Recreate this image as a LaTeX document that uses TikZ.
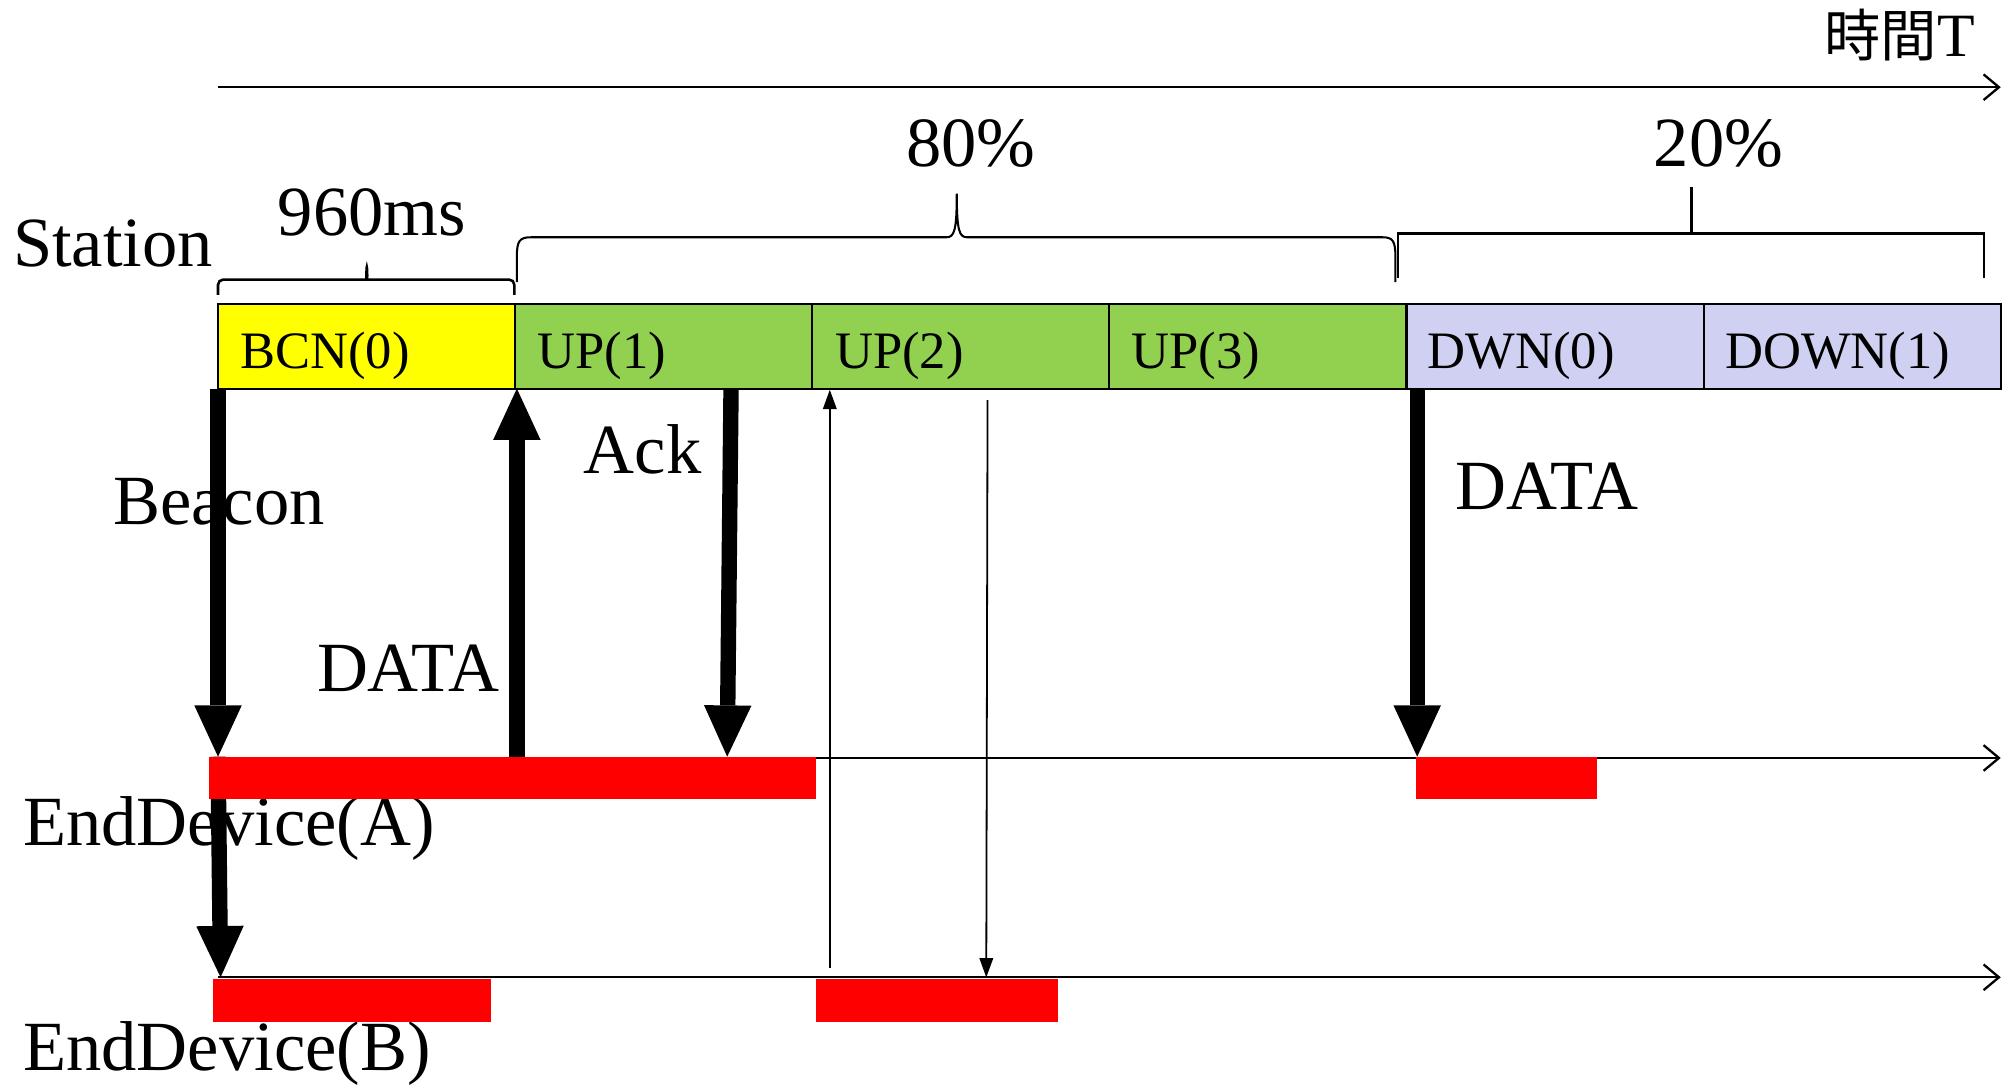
\documentclass[tikz,border=0pt]{standalone}
\usepackage{fontspec}
\setmainfont{Liberation Serif}
\newfontfamily\cjkfont{Noto Sans CJK TC}
\usetikzlibrary{arrows.meta}
\definecolor{cyel}{RGB}{255,255,0}
\definecolor{cgreen}{RGB}{146,208,80}
\definecolor{clav}{RGB}{208,208,242}
\begin{document}
\begin{tikzpicture}[x=1pt,y=-1pt,
 txt/.style={inner sep=0pt, font=\fontsize{55}{60}\selectfont},
 celltxt/.style={inner sep=0pt, font=\fontsize{41}{45}\selectfont},
 cell/.style={draw=black, line width=1.6pt, minimum width=231.67pt, minimum height=66pt, inner sep=0pt},
 heavy/.style={line width=12pt, -{Triangle[width=37pt,length=40pt,line width=0pt]}},
 light/.style={line width=1.4pt, -{Triangle[width=11pt,length=15pt,line width=0pt]}},
 axis/.style={line width=1.8pt, -{Straight Barb[length=12pt,width=20pt]}},
 brace/.style={line width=2pt},
 redbar/.style={fill=red}]
\useasboundingbox (0,0) rectangle (1568,848);

% station cells
\node[cell, fill=cyel]   (bcn)  at (285.83,270) {};
\node[cell, fill=cgreen] (up1)  at (517.50,270) {};
\node[cell, fill=cgreen] (up2)  at (749.17,270) {};
\node[cell, fill=cgreen] (up3)  at (980.83,270) {};
\node[cell, fill=clav]   (dwn0) at (1212.50,270) {};
\node[cell, fill=clav]   (dwn1) at (1444.17,270) {};
\node[celltxt, anchor=base west] (lbcn)  at (187,287)  {BCN(0)};
\node[celltxt, anchor=base west] (lup1)  at (419,287)  {UP(1)};
\node[celltxt, anchor=base west] (lup2)  at (651,287)  {UP(2)};
\node[celltxt, anchor=base west] (lup3)  at (882,287)  {UP(3)};
\node[celltxt, anchor=base west] (ldwn0) at (1113,287) {DWN(0)};
\node[celltxt, anchor=base west] (ldwn1) at (1345,287) {DOWN(1)};

% texts
\node[inner sep=0pt, anchor=base east] (time) at (1540,44)
  {{\cjkfont\fontsize{44}{48}\selectfont 時間}{\fontsize{48}{52}\selectfont T}};
\node[txt, anchor=base west] (station) at (10,208) {Station};
\node[txt, anchor=base] (ms) at (290,184) {960ms};
\node[txt, anchor=base] (p80) at (757,130) {80\%};
\node[txt, anchor=base] (p20) at (1340,130) {20\%};
\node[txt, anchor=base west] (beacon) at (88,409) {Beacon};
\node[txt, anchor=base west] (ack) at (455,369) {Ack};
\node[txt, anchor=base west] (data1) at (247,539) {DATA};
\node[txt, anchor=base west] (data2) at (1135,397) {DATA};
\node[txt, anchor=base west] (devA) at (18,659) {EndDevice(A)};
\node[txt, anchor=base west] (devB) at (18,835) {EndDevice(B)};

% braces
\draw[brace, rounded corners=4pt] (170,230) |- (283,218) .. controls (285.5,218) .. (286,206)
  .. controls (286.5,218) .. (289,218) -| (401,230);
\draw[line width=1.6pt] (403,220) -- (403,200) .. controls (403,188) and (405,185) .. (414,185) -- (738,185)
  .. controls (744,185) and (746,180) .. (746,151) .. controls (746,180) and (748,185) .. (754,185)
  -- (1078,185) .. controls (1086,185) and (1088,188) .. (1088,200) -- (1088,220);
\draw[brace] (1090,217) -- (1090,182) -- (1547,182) -- (1547,217);
\draw[brace] (1319,182) -- (1319,146);

% axes
\coordinate (t0) at (170,68);  \coordinate (t1) at (1560,68);
\coordinate (a0) at (170,591); \coordinate (a1) at (1560,591);
\coordinate (b0) at (170,762); \coordinate (b1) at (1560,762);
\draw[axis] (t0) -- (t1);
\draw[axis] (a0) -- (a1);
\draw[axis] (b0) -- (b1);

% arrow end points
\coordinate (s1) at (170,303);  \coordinate (e1) at (170,590);  \coordinate (f1) at (172,762);
\coordinate (s2) at (403,590);  \coordinate (e2) at (403,303);
\coordinate (s3) at (570,303);  \coordinate (e3) at (567,590);
\coordinate (s4) at (1105,303); \coordinate (e4) at (1105,590);
\coordinate (s5) at (647,755);  \coordinate (e5) at (647,304);
\coordinate (s6) at (770,312);  \coordinate (e6) at (769,762);

\draw[heavy] (s1) -- (e1);
\draw[heavy] (e1) -- (f1);
\draw[heavy] (s2) -- (e2);
\draw[heavy] (s3) -- (e3);
\draw[heavy] (s4) -- (e4);
\draw[light] (s5) -- (e5);
\draw[light] (s6) -- (e6);

% red activity bars
\fill[redbar] (163,590) rectangle (636,623);
\fill[redbar] (1104,590) rectangle (1245,623);
\fill[redbar] (166,763) rectangle (383,797);
\fill[redbar] (636,763) rectangle (825,797);
\end{tikzpicture}
\end{document}
